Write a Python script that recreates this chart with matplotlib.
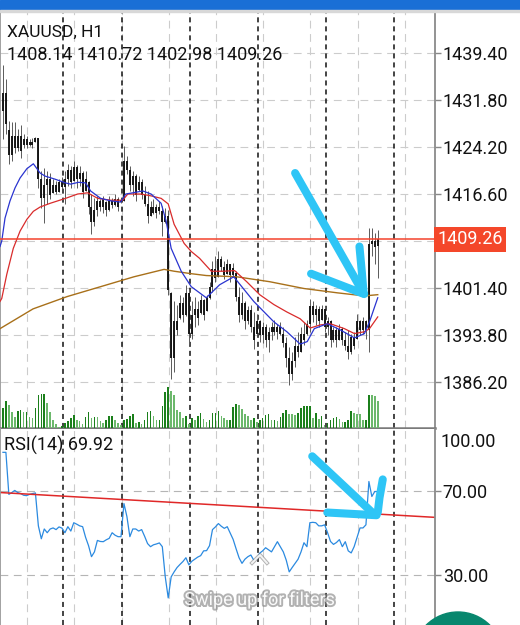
import numpy as np
import matplotlib.pyplot as plt
import matplotlib.patheffects as pe
from matplotlib.patches import Rectangle, Circle
from matplotlib.lines import Line2D

plt.rcParams['font.family'] = ['Roboto', 'DejaVu Sans']

symbol = "XAUUSD, H1"
last_ohlc = [1408.14, 1410.72, 1402.98, 1409.26]
rsi_name = "RSI(14)"

# hourly bars, oldest first
opens = [1430.0, 1433.0, 1427.0, 1423.0, 1426.0, 1424.0, 1426.0, 1424.5, 1425.5, 1424.5,
         1425.0, 1425.1, 1425.6, 1419.0, 1416.0, 1418.0, 1419.0, 1416.8, 1418.0, 1417.0,
         1418.5, 1417.8, 1419.0, 1420.5, 1418.7, 1421.0, 1419.0, 1420.0, 1417.1, 1418.5,
         1414.5, 1412.0, 1414.0, 1415.5, 1414.5, 1415.3, 1414.0, 1415.5, 1414.8, 1415.8,
         1415.6, 1415.5, 1422.0, 1420.5, 1418.0, 1419.5, 1417.3, 1418.5, 1416.5, 1415.0,
         1413.0, 1414.5, 1413.5, 1414.5, 1413.8, 1412.0, 1413.0, 1400.5, 1390.0, 1396.0,
         1396.5, 1399.0, 1397.0, 1400.5, 1394.0, 1397.0, 1398.0, 1397.3, 1399.5, 1397.6,
         1399.8, 1401.5, 1404.5, 1403.2, 1406.0, 1404.8, 1403.7, 1405.2, 1403.5, 1403.8,
         1400.0, 1397.0, 1399.0, 1396.0, 1397.8, 1395.0, 1394.0, 1396.0, 1393.8, 1395.0,
         1393.0, 1394.2, 1395.0, 1394.3, 1395.0, 1394.0, 1392.5, 1390.0, 1387.5, 1389.5,
         1392.0, 1391.0, 1394.0, 1394.0, 1395.5, 1398.5, 1397.0, 1398.0, 1396.2, 1398.0,
         1395.0, 1396.0, 1393.0, 1394.5, 1393.0, 1394.8, 1393.0, 1392.0, 1391.0, 1393.5,
         1393.2, 1396.0, 1394.5, 1396.0, 1394.5, 1408.5, 1409.0, 1408.14]
highs = [1437.5, 1435.3, 1428.5, 1428.2, 1428.2, 1427.2, 1427.7, 1426.4, 1426.0, 1425.5,
         1425.7, 1425.9, 1425.7, 1420.3, 1420.8, 1420.3, 1420.0, 1419.0, 1418.7, 1419.0,
         1419.4, 1420.3, 1421.5, 1421.2, 1422.0, 1421.3, 1421.2, 1420.3, 1420.3, 1418.7,
         1416.6, 1416.0, 1416.3, 1415.8, 1416.3, 1415.5, 1416.3, 1416.0, 1416.6, 1416.1,
         1415.8, 1424.4, 1422.8, 1421.2, 1420.3, 1419.9, 1419.5, 1419.0, 1417.9, 1417.1,
         1415.5, 1415.8, 1415.0, 1415.5, 1414.6, 1414.3, 1414.0, 1400.8, 1399.2, 1398.7,
         1400.3, 1400.0, 1401.9, 1401.3, 1399.2, 1400.0, 1399.2, 1400.3, 1399.6, 1400.3,
         1402.4, 1405.7, 1406.5, 1407.3, 1406.5, 1405.7, 1406.0, 1405.2, 1405.4, 1404.1,
         1401.6, 1400.8, 1399.2, 1398.4, 1398.7, 1397.5, 1397.1, 1396.2, 1395.9, 1395.6,
         1395.1, 1395.9, 1396.2, 1395.6, 1395.9, 1395.1, 1393.5, 1391.9, 1391.0, 1393.5,
         1394.3, 1395.1, 1395.9, 1396.2, 1399.6, 1399.2, 1398.7, 1398.4, 1398.7, 1398.4,
         1396.7, 1396.2, 1395.1, 1395.1, 1395.6, 1395.1, 1394.3, 1394.6, 1394.0, 1394.3,
         1397.1, 1396.2, 1396.7, 1396.2, 1411.1, 1411.1, 1410.3, 1410.72]
lows = [1425.5, 1426.4, 1421.5, 1422.0, 1423.3, 1423.6, 1422.5, 1424.1, 1424.0, 1424.4,
        1424.1, 1425.0, 1417.6, 1414.3, 1411.9, 1415.0, 1415.8, 1416.8, 1416.6, 1417.0,
        1417.4, 1415.0, 1417.9, 1417.6, 1418.7, 1417.6, 1417.9, 1416.0, 1417.1, 1413.3,
        1410.1, 1411.4, 1413.0, 1413.8, 1413.5, 1413.0, 1413.8, 1414.3, 1414.6, 1413.8,
        1415.1, 1415.5, 1419.9, 1417.1, 1416.3, 1415.5, 1417.1, 1415.8, 1414.6, 1411.9,
        1413.0, 1413.3, 1412.7, 1413.3, 1409.8, 1411.9, 1400.3, 1386.6, 1387.8, 1393.8,
        1396.4, 1395.9, 1396.8, 1392.2, 1393.2, 1395.1, 1395.4, 1397.1, 1396.2, 1397.6,
        1399.6, 1400.8, 1402.4, 1403.2, 1404.1, 1402.9, 1403.7, 1402.4, 1403.2, 1399.2,
        1395.9, 1396.4, 1394.8, 1395.6, 1394.3, 1391.5, 1393.8, 1392.7, 1392.4, 1391.9,
        1391.0, 1393.0, 1393.8, 1393.2, 1393.7, 1391.9, 1388.6, 1385.6, 1386.5, 1388.6,
        1390.2, 1391.0, 1392.2, 1393.8, 1394.3, 1395.9, 1395.4, 1395.1, 1396.2, 1394.3,
        1393.8, 1391.9, 1392.7, 1391.9, 1393.0, 1392.2, 1391.4, 1389.9, 1390.7, 1391.5,
        1393.2, 1393.8, 1393.9, 1393.2, 1391.0, 1406.5, 1405.2, 1402.98]
closes = [1433.0, 1428.0, 1423.0, 1426.0, 1424.0, 1426.0, 1423.5, 1425.5, 1424.5, 1425.0,
          1424.6, 1425.6, 1419.0, 1416.0, 1418.0, 1419.0, 1416.5, 1418.0, 1417.0, 1418.5,
          1417.8, 1419.0, 1420.5, 1418.5, 1421.0, 1419.0, 1420.0, 1417.0, 1419.0, 1414.5,
          1412.0, 1414.0, 1415.5, 1414.5, 1415.8, 1414.0, 1415.5, 1414.8, 1415.8, 1414.5,
          1415.3, 1422.0, 1420.5, 1418.0, 1419.5, 1416.5, 1418.5, 1416.5, 1415.0, 1413.0,
          1414.5, 1413.5, 1414.5, 1413.8, 1412.0, 1413.0, 1401.0, 1390.0, 1396.0, 1394.5,
          1399.0, 1397.0, 1400.5, 1394.0, 1397.0, 1398.0, 1396.5, 1399.5, 1397.0, 1399.8,
          1401.5, 1404.5, 1403.0, 1406.0, 1404.8, 1403.5, 1405.3, 1403.5, 1404.6, 1400.0,
          1397.0, 1399.0, 1396.0, 1397.8, 1395.0, 1393.0, 1396.0, 1393.8, 1395.0, 1393.0,
          1394.2, 1395.0, 1394.3, 1395.0, 1394.0, 1392.5, 1390.0, 1387.5, 1389.5, 1392.0,
          1391.0, 1394.0, 1393.0, 1395.5, 1398.5, 1397.0, 1398.0, 1396.0, 1398.0, 1395.0,
          1396.0, 1393.0, 1394.5, 1393.0, 1394.8, 1393.0, 1392.0, 1391.0, 1393.5, 1392.0,
          1396.0, 1394.5, 1396.0, 1394.5, 1408.5, 1409.0, 1408.1, 1409.26]
volumes = [60, 80, 70, 48, 33, 50, 55, 48, 48, 33, 30, 60, 98, 102, 102, 75, 47, 25, 12, 2,
           7, 15, 20, 30, 40, 25, 20, 13, 32, 47, 30, 33, 32, 20, 15, 25, 35, 35, 25, 15,
           8, 25, 27, 37, 43, 15, 17, 13, 23, 48, 50, 35, 23, 25, 65, 108, 123, 110, 100, 55,
           47, 30, 37, 12, 30, 25, 35, 45, 27, 17, 25, 45, 45, 50, 37, 30, 25, 25, 63, 73,
           70, 57, 42, 35, 23, 30, 17, 25, 30, 40, 43, 23, 25, 20, 33, 45, 53, 43, 42, 40,
           45, 60, 65, 65, 67, 30, 45, 27, 35, 10, 15, 25, 30, 33, 27, 17, 17, 25, 52, 45,
           43, 42, 23, 25, 100, 98, 95, 80]
rsi = [88.8, 88.8, 68.6, 69.5, 70.5, 69.5, 69.0, 68.2, 68.0, 68.6,
       69.0, 69.3, 53.5, 47.3, 52.0, 50.2, 52.0, 52.5, 51.7, 53.0,
       52.4, 50.2, 53.1, 51.0, 55.0, 54.3, 53.5, 53.1, 48.0, 44.0,
       38.7, 41.0, 46.5, 46.0, 45.9, 46.8, 47.5, 50.2, 49.0, 48.3,
       48.3, 64.2, 58.0, 48.3, 52.0, 52.0, 51.0, 51.7, 48.5, 45.0,
       43.5, 44.4, 44.8, 45.3, 43.5, 29.0, 18.9, 29.0, 31.4, 33.5,
       35.0, 36.4, 38.2, 34.8, 36.5, 37.5, 38.5, 39.2, 41.5, 41.6,
       44.0, 51.7, 53.0, 54.6, 53.3, 52.3, 53.1, 50.0, 47.0, 42.5,
       38.2, 35.5, 37.5, 38.7, 39.5, 37.0, 37.5, 40.4, 41.5, 43.0,
       42.0, 41.0, 43.5, 45.9, 43.5, 41.0, 37.0, 31.4, 33.5, 35.5,
       37.5, 41.0, 45.4, 43.5, 55.0, 55.2, 55.0, 53.5, 53.5, 54.0,
       50.2, 46.0, 44.6, 45.5, 46.9, 43.5, 45.9, 41.5, 40.5, 43.5,
       48.0, 52.5, 52.5, 54.0, 74.8, 67.6, 70.0, 69.92]

# moving averages (bar index, price)
fast_ma_idx = [-1.0, -0.4, 0.7, 2.4, 4.1, 5.8, 8.1, 10.3, 12.6, 14.3, 17.7, 21.2, 22.9, 25.6,
               28.0, 29.7, 33.1, 36.5, 39.9, 41.6, 44.0, 47.4, 50.2, 53.6, 55.3, 57.0, 60.4,
               63.8, 68.9, 73.4, 78.2, 85.0, 91.8, 96.2, 100.7, 103.1, 105.5, 109.9, 114.3,
               119.1, 122.5, 124.2, 127.0]
fast_ma = [1408.1, 1409.0, 1412.7, 1415.5, 1417.6, 1419.2, 1420.7, 1421.5, 1420.0, 1419.5,
           1419.0, 1418.4, 1418.2, 1418.5, 1418.4, 1417.1, 1415.9, 1415.5, 1415.3, 1416.6,
           1416.8, 1417.1, 1416.6, 1415.1, 1412.2, 1407.8, 1404.1, 1401.6, 1399.8, 1401.9,
           1403.2, 1399.2, 1395.9, 1394.3, 1392.3, 1392.7, 1394.8, 1395.6, 1394.6, 1393.3,
           1394.0, 1395.9, 1399.8]
mid_ma_idx = [-1.0, -0.4, 1.3, 3.5, 5.8, 8.1, 10.3, 12.6, 16.0, 21.2, 25.3, 28.7, 32.1, 36.5,
              40.6, 42.3, 46.8, 50.2, 53.6, 56.0, 58.0, 61.4, 63.8, 66.6, 70.6, 74.7, 78.5,
              82.6, 87.0, 91.8, 96.2, 100.7, 104.1, 107.5, 110.9, 115.7, 119.1, 122.5, 124.2,
              127.0]
mid_ma = [1399.2, 1399.7, 1403.6, 1407.8, 1410.6, 1412.5, 1413.8, 1414.5, 1415.1, 1415.9,
          1416.6, 1416.8, 1415.9, 1415.6, 1415.6, 1416.6, 1416.6, 1416.3, 1415.9, 1415.0,
          1411.7, 1408.6, 1407.3, 1406.2, 1404.1, 1404.1, 1404.2, 1402.4, 1400.3, 1398.7,
          1397.5, 1396.4, 1394.9, 1395.4, 1395.6, 1394.8, 1394.0, 1394.3, 1394.8, 1396.7]
slow_ma_idx = [-1.0, 10.2, 21.8, 33.1, 44.4, 54.6, 58.0, 63.8, 68.9, 79.2, 90.4, 102.0,
               113.3, 122.5, 127.0]
slow_ma = [1394.8, 1398.0, 1400.0, 1401.6, 1403.2, 1404.4, 1404.1, 1403.7, 1403.4, 1403.2,
           1402.4, 1401.3, 1400.6, 1400.1, 1400.3]

# trend line drawn on RSI window (bar index, rsi)
trend_idx = [-1.0, 147.4]
trend_rsi = [69.5, 57.5]

day_breaks = [20.5, 40.5, 63.5, 86.5, 109.5, 132.5]
price_ticks = [1386.2, 1393.8, 1401.4, 1409.0, 1416.6, 1424.2, 1431.8, 1439.4]

n = len(closes)
idx = np.arange(n)
W, H = 520, 625
fig = plt.figure(figsize=(W / 100, H / 100), dpi=100)
fig.patch.set_facecolor('white')

ax = fig.add_axes([0, 1 - 428 / H, 435 / W, 416 / H])
axv = fig.add_axes([0, 1 - 428 / H, 435 / W, 416 / H])
ax_rsi = fig.add_axes([0, 0, 435 / W, 196 / H])
xlim = (-1.0, 146.4)

grid_c = '#cccccc'
for a in (ax, ax_rsi):
    a.set_xlim(*xlim)
    for gx in np.arange(8.2, 146, 16):
        a.axvline(gx, color=grid_c, lw=0.8, ls=(0, (7, 5)), zorder=0)
    for d in day_breaks:
        a.axvline(d, color='#111111', lw=1.1, ls=(0, (3.3, 2.6)), zorder=0.5)
    a.set_xticks([])
    for s in ('top', 'bottom'):
        a.spines[s].set_visible(False)
    a.spines['right'].set_color('#8a8a8a')
    a.spines['right'].set_linewidth(1.3)
    a.spines['left'].set_color('#9a9a9a')
    a.spines['left'].set_linewidth(1.3)
    a.yaxis.tick_right()
    a.tick_params(axis='y', length=4, width=1, color='#888888', labelsize=13, pad=1.5,
                  labelcolor='#111111')

# price panel
ax.set_ylim(1378.71, 1446.08)
for p in price_ticks:
    ax.axhline(p, color=grid_c, lw=0.8, ls=(0, (7, 5)), zorder=0)
ax.set_yticks([p for p in price_ticks if p != 1409.0])
ax.set_yticklabels([f'{p:.2f}' for p in price_ticks if p != 1409.0])

o = np.array(opens); c = np.array(closes)
ax.vlines(idx, lows, highs, color='#5a5a5a', lw=0.7, zorder=2)
ax.vlines(idx, np.minimum(o, c), np.maximum(o, c), color='#111111', lw=1.35, zorder=2)

ax.plot(slow_ma_idx, slow_ma, color='#a8701a', lw=1.0, zorder=3)
ax.plot(mid_ma_idx, mid_ma, color='#d92b2b', lw=0.9, zorder=3)
ax.plot(fast_ma_idx, fast_ma, color='#2a34d0', lw=0.9, zorder=3)

ax.axhline(last_ohlc[3], color='#f4432c', lw=1.1, zorder=3)
ax.text(1.006, last_ohlc[3], f'{last_ohlc[3]:.2f}', transform=ax.get_yaxis_transform(),
        ha='left', va='center', fontsize=13, color='white', clip_on=False,
        bbox=dict(boxstyle='square,pad=0.18', fc='#f4472a', ec='none'))

# volumes
vols = np.array(volumes)
vol_col = ['#1b7f1b' if i == 0 or vols[i] >= vols[i - 1] else '#6cb86c' for i in range(n)]
axv.bar(idx, vols, width=0.55, color=vol_col, zorder=2)
axv.set_xlim(*xlim)
axv.set_ylim(0, 1248)
axv.set_axis_off()
axv.patch.set_visible(False)
ax.spines['bottom'].set_visible(True)
ax.spines['bottom'].set_color('#7a7a7a')
ax.spines['bottom'].set_linewidth(1.8)

# rsi panel
ax_rsi.set_ylim(5.9, 100)
for lvl in (70, 30):
    ax_rsi.axhline(lvl, color='#b5b5b5', lw=0.8, ls=(0, (7, 5)), zorder=0)
ax_rsi.set_yticks([70, 30])
ax_rsi.set_yticklabels(['70.00', '30.00'])
ax_rsi.text(1.0 + 5 / 435, 94.8, '100.00', transform=ax_rsi.get_yaxis_transform(),
            fontsize=13, ha='left', va='center_baseline', color='#111111', clip_on=False)
ax_rsi.plot(idx, rsi, color='#2b8ae0', lw=0.9, zorder=2)
ax_rsi.plot(trend_idx, trend_rsi, color='#e02828', lw=1.1, zorder=2.5)

# hand-drawn arrows
arrow_kw = dict(color='#2ec5f6', lw=5.8, solid_capstyle='round', solid_joinstyle='round',
                clip_on=False, zorder=6)
ax.plot([99.0, 122.2], [1420.0, 1400.5], **arrow_kw)
ax.plot([104.4, 122.4], [1403.7, 1400.4], **arrow_kw)
ax.plot([120.8, 121.6, 122.2], [1408.1, 1404.0, 1400.6], **arrow_kw)
ax_rsi.plot([104.8, 125.9], [86.9, 58.9], **arrow_kw)
ax_rsi.plot([109.9, 126.6], [59.9, 58.6], **arrow_kw)
ax_rsi.plot([128.7, 127.6, 127.0], [75.8, 67.0, 59.9], **arrow_kw)

# header texts
fig.text(7 / W, 1 - 37 / H, symbol, fontsize=12.5, color='#111111')
fig.text(7 / W, 1 - 60 / H, ' '.join(f'{v:.2f}' for v in last_ohlc), fontsize=13,
         color='#111111')
fig.text(4 / W, 1 - 451 / H, f'{rsi_name} {rsi[-1]:.2f}', fontsize=13, color='#111111')

# phone ui overlays
fig.add_artist(Rectangle((0, 1 - 10 / H), 1, 10 / H, transform=fig.transFigure,
                         color='#1a6fd6', zorder=10))
fig.add_artist(Rectangle((0, 1 - 12 / H), 1, 2 / H, transform=fig.transFigure,
                         color='#d8d8d8', zorder=10))
fig.add_artist(Circle((4.58, -0.32), 0.45, transform=fig.dpi_scale_trans,
                      color='#08876e', zorder=10))
shadow = [pe.withStroke(linewidth=2.8, foreground=(0.5, 0.5, 0.5, 0.6))]
fig.add_artist(Line2D([252 / W, 260 / W, 267 / W], [1 - 563 / H, 1 - 555 / H, 1 - 563 / H],
                      transform=fig.transFigure, color='#f4f4f4', lw=1.4,
                      path_effects=shadow, zorder=10))
fig.text(259.5 / W, 1 - 605 / H, 'Swipe up for filters', fontsize=13, ha='center',
         color='#fafafa', path_effects=shadow, zorder=10)

fig.savefig('out.png', dpi=100)
